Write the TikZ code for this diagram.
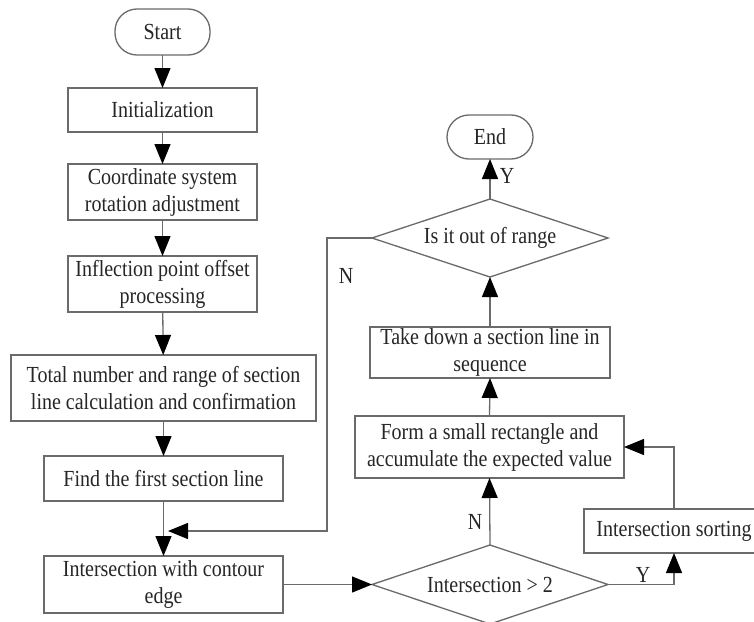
\documentclass[tikz,border=0pt]{standalone}
\usepackage{fontspec}
\setmainfont[FakeStretch=0.87]{Liberation Serif}
\usetikzlibrary{shapes.geometric,arrows.meta,calc}
\definecolor{linec}{HTML}{6A6A6A}
\definecolor{textc}{HTML}{262626}
\begin{document}
\begin{tikzpicture}[x=1pt,y=-1pt,
  font=\fontsize{23}{27}\selectfont,
  every node/.style={text=textc},
  procbox/.style={draw=linec,line width=1.3pt,rectangle,inner sep=0pt,outer sep=0pt,align=center},
  termbox/.style={draw=linec,line width=1.3pt,rectangle,rounded corners=22pt,inner sep=0pt,outer sep=0pt,align=center},
  decbox/.style={draw=linec,line width=1.3pt,diamond,aspect=3.03,inner sep=0pt,outer sep=0pt,align=center,minimum width=236pt,minimum height=78pt},
  flow/.style={draw=linec,line width=1.3pt,-{Triangle[length=20pt,width=16pt,fill=black,color=black]}},
  lbl/.style={inner sep=0pt}
]
\useasboundingbox (0,0) rectangle (754,621);
\fill[white] (0,0) rectangle (754,621);

% left column
\node[termbox,minimum width=95pt,minimum height=46pt] (start) at (162.5,32) {Start};
\node[procbox,minimum width=189pt,minimum height=44pt] (init) at (162.5,110) {Initialization};
\node[procbox,minimum width=189pt,minimum height=56pt] (coord) at (162.5,192) {Coordinate system\\rotation adjustment};
\node[procbox,minimum width=189pt,minimum height=56pt] (infl) at (162.5,284) {Inflection point offset\\processing};
\node[procbox,minimum width=305pt,minimum height=66pt] (total) at (163.5,388) {Total number and range of section\\line calculation and confirmation};
\node[procbox,minimum width=239pt,minimum height=45pt] (find) at (163.5,478.5) {Find the first section line};
\node[procbox,minimum width=239pt,minimum height=57pt] (contour) at (163.5,584.5) {Intersection with contour\\edge};

% right column
\node[termbox,minimum width=86pt,minimum height=44pt] (end) at (490,137) {End};
\node[decbox] (range) at (490,238) {Is it out of range};
\node[procbox,minimum width=240pt,minimum height=51pt] (take) at (490,352.5) {Take down a section line in\\sequence};
\node[procbox,minimum width=269pt,minimum height=62pt] (form) at (489.5,447) {Form a small rectangle and\\accumulate the expected value};
\node[decbox,minimum height=79pt] (inter) at (490,584.5) {Intersection > 2};
\node[procbox,minimum width=180pt,minimum height=44pt] (sort) at (674,531) {Intersection sorting};

% coordinates
\coordinate (nbend) at (327,531);
\coordinate (loopin) at (168,531);

% connectors
\draw[flow] (start) -- (init);
\draw[flow] (init) -- (coord);
\draw[flow] (coord) -- (infl);
\draw[flow] (infl) -- (total);
\draw[flow] (total) -- (find);
\draw[flow] (find.south -| contour.north) -- (contour.north);
\draw[flow] (contour.east) -- (inter.west);
\draw[flow] (inter.north) -- (form.south);
\draw[flow] (inter.east) -| (sort.south);
\draw[flow] (sort.north) |- (form.east);
\draw[flow] (form.north) -- (take.south);
\draw[flow] (take.north) -- (range.south);
\draw[flow] (range.north) -- (end.south);
\draw[flow] (range.west) -| (nbend) -- (loopin);

% labels
\node[lbl] (ylab1) at (507,176) {Y};
\node[lbl] (nlab1) at (346,276) {N};
\node[lbl] (nlab2) at (475,522) {N};
\node[lbl] (ylab2) at (643,575) {Y};
\end{tikzpicture}
\end{document}
